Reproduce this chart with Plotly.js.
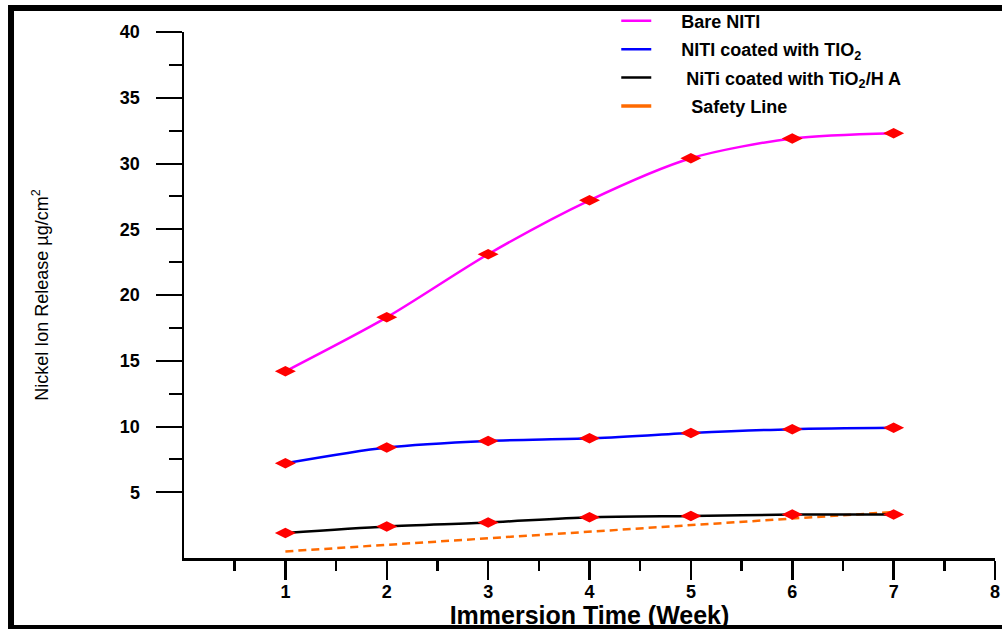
<!DOCTYPE html>
<html>
<head>
<meta charset="utf-8">
<script src="https://cdn.plot.ly/plotly-3.0.1.min.js"></script>
<style>html,body{margin:0;padding:0;background:#fff;}#chart{width:1002px;height:629px;}</style>
</head>
<body>
<div id="chart"></div>
<script>
const weeks = [1, 2, 3, 4, 5, 6, 7];
const bareNiTi = [14.2, 18.3, 23.1, 27.2, 30.4, 31.9, 32.3];
const coatedTiO2 = [7.2, 8.4, 8.9, 9.1, 9.5, 9.8, 9.9];
const coatedTiO2HA = [1.9, 2.4, 2.7, 3.1, 3.2, 3.3, 3.3];
const safetyLine = [0.5, 1.0, 1.5, 2.0, 2.5, 3.0, 3.5];
const seriesNames = [
  'Bare NITI',
  'NITI coated with TIO<sub>2</sub>',
  'NiTi coated with TiO<sub>2</sub>/H A',
  'Safety Line'
];
const legendPads = ['\u00A0\u00A0\u00A0\u00A0\u00A0', '\u00A0\u00A0\u00A0\u00A0\u00A0', '\u00A0\u00A0\u00A0\u00A0\u00A0\u00A0', '\u00A0\u00A0\u00A0\u00A0\u00A0\u00A0\u00A0'];
const seriesColors = ['#FF00FF', '#0000FF', '#000000', '#FF6A00'];
const xTicks = [1, 2, 3, 4, 5, 6, 7, 8];
const yTicks = [5, 10, 15, 20, 25, 30, 35, 40];
const yMinorTicks = [7.5, 12.5, 17.5, 22.5, 27.5, 32.5, 37.5];
const xMinorTicks = [0.5, 1.5, 2.5, 3.5, 4.5, 5.5, 6.5, 7.5];

const marker = {symbol: 'diamond-wide', size: 15, color: '#FF0000', line: {width: 0}};

const dataSeries = [bareNiTi, coatedTiO2, coatedTiO2HA];
const traces = [];
// safety line first (drawn underneath)
traces.push({x: weeks, y: safetyLine, name: seriesNames[3], mode: 'lines', showlegend: false,
  line: {color: seriesColors[3], width: 2.5, dash: '8px,5px'}});
dataSeries.forEach((ys, i) => {
  traces.push({x: weeks, y: ys, name: seriesNames[i], mode: 'lines+markers', showlegend: false,
    line: {color: seriesColors[i], width: 2.5, shape: 'spline', smoothing: 0.8}, marker: marker});
});
// legend entries (line samples only, as in the reference)
seriesNames.forEach((nm, i) => {
  traces.push({x: [null], y: [null], name: legendPads[i] + nm, legendgroup: 'g' + i, mode: 'lines',
    line: {color: seriesColors[i], width: i === 3 ? 3.5 : 2.5}});
});

const fontMain = 'Liberation Sans, Arial, sans-serif';

const layout = {
  width: 1002, height: 629,
  margin: {l: 184, r: 7, t: 32, b: 71, autoexpand: false},
  paper_bgcolor: '#ffffff', plot_bgcolor: '#ffffff',
  showlegend: true,
  legend: {
    x: 0.533, y: 1.056, xanchor: 'left', yanchor: 'top',
    bgcolor: 'rgba(0,0,0,0)', borderwidth: 0,
    font: {family: fontMain, size: 18, color: '#000', weight: 'bold'},
    tracegroupgap: 2, traceorder: 'grouped'
  },
  xaxis: {
    range: [0, 8], showgrid: false, zeroline: false,
    showline: true, linecolor: '#000', linewidth: 2.5,
    tickmode: 'array', tickvals: xTicks, ticktext: xTicks.map(String),
    ticks: 'outside', ticklen: 19, tickwidth: 2.5, tickcolor: '#000',
    ticklabelstandoff: -3,
    tickfont: {family: fontMain, size: 18, color: '#000', weight: 'bold'},
    minor: {tickmode: 'array', tickvals: xMinorTicks, ticks: 'outside', ticklen: 10, tickwidth: 2.5, tickcolor: '#000', showgrid: false},
    title: {text: 'Immersion Time (Week)', standoff: 0,
      font: {family: fontMain, size: 25, color: '#000', weight: 'bold'}}
  },
  yaxis: {
    range: [0, 40], showgrid: false, zeroline: false,
    showline: true, linecolor: '#000', linewidth: 2.5,
    tickmode: 'array', tickvals: yTicks, ticktext: yTicks.map(String),
    ticks: 'outside', ticklen: 26, tickwidth: 2, tickcolor: '#000',
    ticklabelstandoff: 12,
    tickfont: {family: fontMain, size: 18, color: '#000', weight: 'bold'},
    minor: {tickmode: 'array', tickvals: yMinorTicks, ticks: 'outside', ticklen: 13, tickwidth: 2, tickcolor: '#000', showgrid: false},
    title: {text: 'Nickel Ion Release \u00B5g/cm<sup>2</sup>', standoff: 67,
      font: {family: 'Liberation Sans Narrow, Arial Narrow, Liberation Sans, sans-serif', size: 18, color: '#000'}}
  },
  shapes: [
    {type: 'rect', xref: 'paper', yref: 'paper',
     x0: -0.2133, x1: 1.0185, y0: -0.1331, y1: 1.0456,
     line: {color: '#000', width: 6}, fillcolor: 'rgba(0,0,0,0)', layer: 'below'}
  ]
};

Plotly.newPlot('chart', traces, layout, {displayModeBar: false, staticPlot: true});
</script>
</body>
</html>
